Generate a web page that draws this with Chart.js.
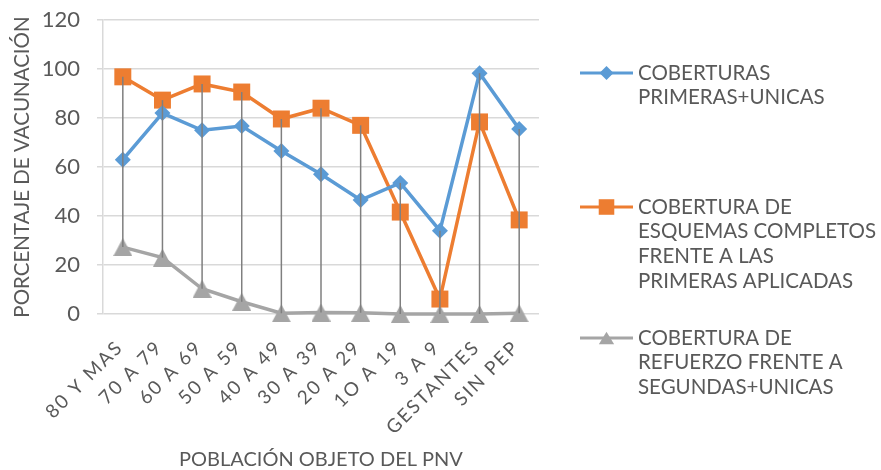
<!DOCTYPE html>
<html><head><meta charset="utf-8">
<script src="https://cdn.jsdelivr.net/npm/chart.js@4/dist/chart.umd.min.js"></script>
<style>html,body{margin:0;padding:0;background:#fff;}#wrap{width:881px;height:470px;}</style>
</head><body><div id="wrap"><canvas id="c" width="881" height="470"></canvas></div>
<script>
// ---- data ----
const categories = ['80 Y MAS','70 A 79','60 A 69','50 A 59','40 A 49','30 A 39','20 A 29','1O A 19','3 A 9','GESTANTES','SIN PEP'];
const coberturasPrimeras = [63, 82, 75, 76.7, 66.5, 57, 46.5, 53.5, 34, 98.3, 75.5];
const esquemasCompletos = [96.8, 87.3, 93.9, 90.6, 79.6, 84, 77, 41.6, 6.1, 78.4, 38.4];
const refuerzo = [27.3, 23, 10.3, 5, 0.3, 0.6, 0.5, 0, 0, 0, 0.3];
const seriesNames = ['COBERTURAS PRIMERAS+UNICAS','COBERTURA DE ESQUEMAS COMPLETOS FRENTE A LAS PRIMERAS APLICADAS','COBERTURA DE REFUERZO FRENTE A SEGUNDAS+UNICAS'];
const legendLines = [
  ['COBERTURAS','PRIMERAS+UNICAS'],
  ['COBERTURA DE','ESQUEMAS COMPLETOS','FRENTE A LAS','PRIMERAS APLICADAS'],
  ['COBERTURA DE','REFUERZO FRENTE A','SEGUNDAS+UNICAS']
];
const yAxisTitle = 'PORCENTAJE DE VACUNACIÓN';
const xAxisTitle = 'POBLACIÓN OBJETO DEL PNV';
const yMin = 0, yMax = 120, yStep = 20;

// ---- style ----
const FONT = 'Lato, "Open Sans", sans-serif';
const TXT = '#595959';
const colors = ['#5B9BD5', '#ED7D31', '#A5A5A5'];

// bbox-centred triangle marker image
function triangleImage(w, h, color) {
  const c = document.createElement('canvas');
  c.width = w; c.height = h;
  const g = c.getContext('2d');
  g.fillStyle = color;
  g.beginPath(); g.moveTo(w / 2, 0); g.lineTo(w, h); g.lineTo(0, h); g.closePath(); g.fill();
  return c;
}
const styles = ['rectRot', 'rect', triangleImage(19, 18, colors[2])];
const radii = [8, 12, 10];

const hiLoPlugin = {
  id: 'hiLo',
  afterDatasetsDraw(chart) {
    const {ctx, scales: {x, y}} = chart;
    const n = chart.data.labels.length;
    ctx.save();
    ctx.strokeStyle = '#7F7F7F';
    ctx.lineWidth = 1.5;
    for (let i = 0; i < n; i++) {
      const vals = chart.data.datasets.map(d => d.data[i]);
      const hi = Math.max(...vals), lo = Math.min(...vals);
      const px = x.getPixelForValue(i);
      ctx.beginPath();
      ctx.moveTo(px, y.getPixelForValue(hi));
      ctx.lineTo(px, y.getPixelForValue(lo));
      ctx.stroke();
    }
    ctx.restore();
  }
};

const spacingPlugin = {
  id: 'xSpacing',
  afterLayout(chart) {
    const s = chart.scales.x;
    if (s && !s._spaced) {
      const orig = s.drawLabels.bind(s);
      s.drawLabels = function (area) {
        const ctx = chart.ctx;
        ctx.save();
        ctx.letterSpacing = '2px';
        orig(area);
        ctx.restore();
      };
      s._spaced = true;
    }
  }
};

function drawMarker(ctx, idx, cx, cy, r) {
  ctx.beginPath();
  if (idx === 0) {
    ctx.moveTo(cx, cy - r); ctx.lineTo(cx + r, cy); ctx.lineTo(cx, cy + r); ctx.lineTo(cx - r, cy);
  } else if (idx === 1) {
    const s = r * Math.SQRT1_2; ctx.rect(cx - s, cy - s, 2 * s, 2 * s);
  } else {
    const w = r * 0.85, h = r * 0.7;
    ctx.moveTo(cx, cy - h); ctx.lineTo(cx + w, cy + h); ctx.lineTo(cx - w, cy + h);
  }
  ctx.closePath();
  ctx.fill();
}

const legendPlugin = {
  id: 'customLegend',
  afterDraw(chart, args, opts) {
    const ctx = chart.ctx;
    ctx.save();
    ctx.font = opts.fontSize + 'px ' + FONT;
    ctx.textBaseline = 'middle';
    ctx.textAlign = 'left';
    chart.data.datasets.forEach((ds, i) => {
      const y0 = opts.tops[i];
      ctx.strokeStyle = ds.borderColor;
      ctx.lineWidth = 3;
      ctx.beginPath(); ctx.moveTo(opts.lineX0, y0); ctx.lineTo(opts.lineX1, y0); ctx.stroke();
      ctx.fillStyle = ds.backgroundColor;
      drawMarker(ctx, i, (opts.lineX0 + opts.lineX1) / 2, y0, opts.markerR[i]);
      ctx.fillStyle = TXT;
      legendLines[i].forEach((t, k) => ctx.fillText(t, opts.textX, y0 + k * opts.lineH));
    });
    ctx.restore();
  }
};

const datasets = [coberturasPrimeras, esquemasCompletos, refuerzo].map((d, i) => ({
  label: seriesNames[i],
  data: d,
  borderColor: colors[i],
  backgroundColor: colors[i],
  borderWidth: 3.5,
  pointStyle: styles[i],
  pointRadius: radii[i],
  pointHoverRadius: radii[i],
  pointBorderWidth: 0,
  tension: 0,
  clip: false
}));

new Chart(document.getElementById('c'), {
  type: 'line',
  data: { labels: categories, datasets },
  options: {
    responsive: false,
    animation: false,
    devicePixelRatio: 1,
    layout: { autoPadding: false, padding: { top: 20, right: 342, bottom: 0, left: 0 } },
    plugins: {
      legend: { display: false },
      tooltip: { enabled: false },
      customLegend: { fontSize: 20.5, lineH: 24.8, textX: 638, lineX0: 580, lineX1: 633, tops: [73, 207, 338], markerR: [7, 11, 9] }
    },
    scales: {
      x: {
        offset: true,
        grid: { display: false },
        border: { display: false },
        ticks: { color: TXT, font: { family: FONT, size: 19 }, minRotation: 45, maxRotation: 45, padding: 14, labelOffset: -3, autoSkip: false },
        title: { display: true, text: xAxisTitle, color: TXT, font: { family: FONT, size: 20, lineHeight: 1 }, padding: { top: 0, bottom: 0 } },
        afterFit(s) { s.height = 156; }
      },
      y: {
        min: yMin, max: yMax,
        ticks: { stepSize: yStep, color: TXT, font: { family: FONT, size: 22 }, padding: 17 },
        grid: { color: '#D9D9D9', lineWidth: 1.5, tickLength: 6, tickColor: '#D9D9D9' },
        border: { display: true, color: '#D9D9D9', width: 1.5 },
        title: { display: true, text: yAxisTitle, color: TXT, font: { family: FONT, size: 20.5, lineHeight: 1.2 }, padding: { top: 10, bottom: 0 } },
        afterFit(s) { s.width = 103; s.paddingTop = 0; s.paddingBottom = 0; }
      }
    }
  },
  plugins: [spacingPlugin, hiLoPlugin, legendPlugin]
});
</script></body></html>
